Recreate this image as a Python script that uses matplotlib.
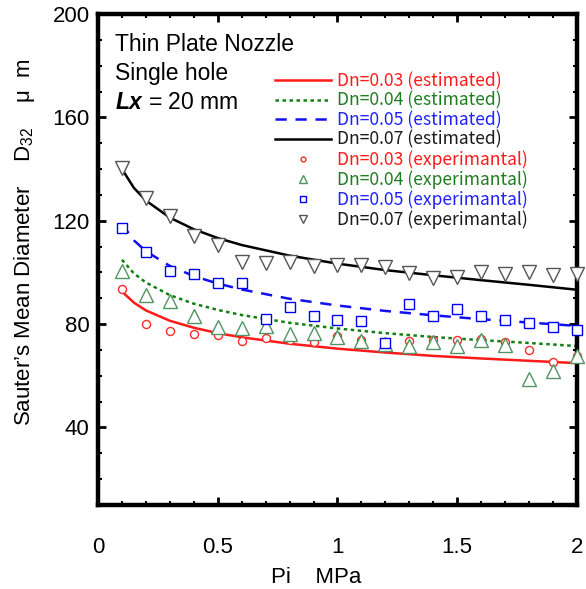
#!/usr/bin/env python3
"""
plot.py — Sauter's mean diameter D32 vs injection pressure for a thin plate
nozzle (single hole, Lx = 20 mm): estimated curves and experimental points.
"""
import matplotlib
matplotlib.use("Agg")
import matplotlib.pyplot as plt
from matplotlib.ticker import MultipleLocator

plt.rcParams["font.family"] = ["Liberation Sans", "DejaVu Sans"]
plt.rcParams["mathtext.fontset"] = "custom"
plt.rcParams["mathtext.rm"] = "Liberation Sans"
plt.rcParams["mathtext.bfit"] = "Liberation Sans:italic:bold"

# ── Data ──────────────────────────────────────────────────────────────────────
# estimated curves
p_est = [0.1, 0.15, 0.2, 0.3, 0.4, 0.5, 0.6, 0.8, 1.0, 1.2, 1.4, 1.6, 1.8, 2.0]
d32_est_003 = [92.6, 88.3, 85.3, 81.3, 78.6, 76.5, 74.9, 72.4, 70.5, 69.0, 67.7, 66.7, 65.8, 64.9]
d32_est_004 = [104.9, 99.6, 96.1, 91.2, 87.9, 85.5, 83.5, 80.5, 78.3, 76.5, 75.0, 73.8, 72.7, 71.5]
d32_est_005 = [118.7, 112.4, 108.2, 102.5, 98.6, 95.7, 93.4, 89.8, 87.2, 85.1, 83.4, 81.9, 80.6, 79.3]
d32_est_007 = [140.0, 132.7, 127.8, 121.2, 116.7, 113.3, 110.6, 106.5, 103.4, 100.9, 98.9, 97.0, 95.2, 93.3]

# experimental points
p_exp = [0.1, 0.2, 0.3, 0.4, 0.5, 0.6, 0.7, 0.8, 0.9, 1.0,
         1.1, 1.2, 1.3, 1.4, 1.5, 1.6, 1.7, 1.8, 1.9, 2.0]
d32_exp_003 = [93.6, 80.1, 77.2, 76.1, 75.9, 73.6, 74.6, 74.0, 72.9, 75.5,
               74.0, 72.7, 73.4, 74.0, 74.0, 74.3, 73.0, 70.0, 65.2, 67.5]
d32_exp_004 = [100.4, 91.4, 89.1, 83.3, 78.9, 78.5, 79.2, 76.3, 76.6, 75.0,
               73.6, 72.3, 71.7, 73.0, 71.5, 74.0, 72.1, 58.6, 61.8, 67.8]
d32_exp_005 = [117.2, 107.9, 100.4, 99.5, 95.8, 95.9, 82.0, 86.5, 83.3, 81.7,
               81.1, 72.7, 87.9, 83.3, 85.9, 83.3, 81.4, 80.5, 78.8, 77.9]
d32_exp_007 = [140.5, 128.9, 122.0, 114.2, 110.7, 104.2, 103.8, 104.2, 102.6, 103.0,
               103.0, 102.2, 99.9, 98.0, 98.4, 100.3, 99.5, 100.0, 99.0, 99.5]

labels_est = ["Dn=0.03 (estimated)", "Dn=0.04 (estimated)",
              "Dn=0.05 (estimated)", "Dn=0.07 (estimated)"]
labels_exp = ["Dn=0.03 (experimantal)", "Dn=0.04 (experimantal)",
              "Dn=0.05 (experimantal)", "Dn=0.07 (experimantal)"]

C_RED   = "#ff1a1a"
C_GREEN = "#118011"
C_BLUE  = "#1010f0"
C_BLACK = "#000000"
TXT_COLORS = ["#ff1a1a", "#1e7d1e", "#2020ff", "#1a1a1a"]


def main():
    fig = plt.figure(figsize=(5.86, 5.89), dpi=100)
    ax = fig.add_axes([98 / 586, 1 - 505 / 589, 479 / 586, 491 / 589])

    lw = 1.8
    ax.plot(p_est, d32_est_003, color=C_RED, lw=lw, ls="-", label=labels_est[0])
    ax.plot(p_est, d32_est_004, color=C_GREEN, lw=lw, ls=(0, (1.4, 1.4)), label=labels_est[1])
    ax.plot(p_est, d32_est_005, color=C_BLUE, lw=lw, ls=(0, (4.5, 3.5)), label=labels_est[2])
    ax.plot(p_est, d32_est_007, color=C_BLACK, lw=lw, ls="-", label=labels_est[3])

    mk = dict(ls="none", mfc="white", mew=1.0, clip_on=False, zorder=5)
    ax.plot(p_exp, d32_exp_003, marker="o", ms=5.8, mec="#ff2a2a", color="#ff2a2a",
            label=labels_exp[0], **mk)
    ax.plot(p_exp, d32_exp_004, marker="^", ms=9.8, mec="#4f9462", color="#4f9462",
            label=labels_exp[1], **mk)
    ax.plot(p_exp, d32_exp_005, marker="s", ms=6.6, mec="#0000ee", color="#0000ee",
            label=labels_exp[2], **mk)
    ax.plot(p_exp, d32_exp_007, marker="v", ms=9.8, mec="#555555", color="#555555",
            label=labels_exp[3], **mk)

    ax.set_xlim(0, 2)
    ax.set_ylim(10, 200)
    ax.xaxis.set_major_locator(MultipleLocator(0.5))
    ax.xaxis.set_minor_locator(MultipleLocator(0.1))
    ax.yaxis.set_major_locator(MultipleLocator(40))
    ax.yaxis.set_minor_locator(MultipleLocator(10))
    ax.set_xticks([0, 0.5, 1, 1.5, 2])
    ax.set_xticklabels(["0", "0.5", "1", "1.5", "2"])

    for s in ax.spines.values():
        s.set_linewidth(3.2)
        s.set_zorder(4)
    ax.tick_params(which="both", direction="in", top=True, right=True)
    ax.tick_params(which="major", length=6, width=2.0, labelsize=16, pad=6)
    ax.tick_params(which="minor", length=3.2, width=1.5)
    ax.tick_params(axis="x", which="major", pad=23)

    ax.set_xlabel("Pi    MPa", fontsize=16)
    ax.xaxis.set_label_coords(0.455, -0.127)
    ax.set_ylabel("Sauter\u2019s Mean Diameter    D$_{32}$    \u03bc  m", fontsize=16)
    ax.yaxis.set_label_coords(-0.128, 0.535)

    # annotation block, upper left
    ax.text(0.035, 0.937, "Thin Plate Nozzle", transform=ax.transAxes,
            fontsize=16.5, va="center", ha="left")
    ax.text(0.035, 0.878, "Single hole", transform=ax.transAxes,
            fontsize=16.5, va="center", ha="left")
    ax.text(0.035, 0.819, r"$\mathbfit{Lx}$ = 20 mm", transform=ax.transAxes,
            fontsize=16.5, va="center", ha="left")

    leg = ax.legend(loc="upper left", bbox_to_anchor=(275 / 586, 1 - 72 / 589),
                    bbox_transform=fig.transFigure, frameon=False, borderpad=0,
                    borderaxespad=0, handlelength=3.2, handletextpad=0.35,
                    labelspacing=0.075, numpoints=1, markerscale=0.6,
                    prop={"family": ["Noto Sans CJK JP", "DejaVu Sans"], "size": 12.6})
    for txt, col in zip(leg.get_texts(), TXT_COLORS + TXT_COLORS):
        txt.set_color(col)

    fig.savefig("out.png", dpi=100)


if __name__ == "__main__":
    main()
